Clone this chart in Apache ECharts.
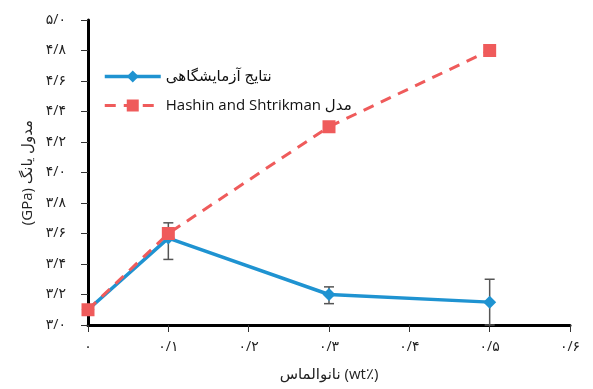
<!DOCTYPE html>
<html><head><meta charset="utf-8">
<script src="https://cdn.jsdelivr.net/npm/echarts@6/dist/echarts.min.js"></script>
<style>html,body{margin:0;padding:0;background:#fff}#c{width:593px;height:389px}</style>
</head><body><div id="c"></div>
<script>
var xValues = [0, 0.1, 0.3, 0.5];
var expValues = [3.10, 3.57, 3.20, 3.15];
var expErrLow = [3.10, 3.43, 3.14, 3.00];
var expErrHigh = [3.10, 3.67, 3.25, 3.30];
var modelValues = [3.10, 3.60, 4.30, 4.80];
var expName = 'نتایج آزمایشگاهی';
var modelName = 'Hashin and Shtrikman مدل';
var yAxisTitle = '(GPa) مدول یانگ';
var xAxisTitle = 'نانوالماس (wt٪)';
var faDigits = '۰۱۲۳۴۵۶۷۸۹';

function toFa(s){ return s.replace(/[0-9]/g, function(d){return faDigits[+d];}).replace('.', '/'); }

var FONT = "'Open Sans','DejaVu Sans',sans-serif";
var chart = echarts.init(document.getElementById('c'));
chart.setOption({
  animation: false,
  textStyle: {fontFamily: FONT},
  grid: {left: 88, right: 23, top: 20, bottom: 64},
  legend: {
    orient: 'vertical', left: 98, top: 64, itemGap: 14,
    itemWidth: 56, itemHeight: 15,
    textStyle: {fontSize: 15, color: '#111', fontFamily: FONT},
    data: [
      {name: expName, lineStyle: {width: 3.5}},
      {name: modelName, lineStyle: {width: 3}}
    ]
  },
  xAxis: {
    type: 'value', min: 0, max: 0.6, interval: 0.1,
    name: xAxisTitle, nameLocation: 'middle', nameGap: 42,
    nameTextStyle: {fontSize: 15, color: '#222', fontFamily: FONT},
    axisLine: {lineStyle: {color: '#000', width: 3}},
    axisTick: {show: true, length: 7, lineStyle: {color: '#333', width: 1}},
    axisLabel: {margin: 15, fontSize: 14, color: '#222', formatter: function(v){ return toFa(v === 0 ? '0' : v.toFixed(1)); }},
    splitLine: {show: false}
  },
  yAxis: {
    type: 'value', min: 3.0, max: 5.0, interval: 0.2,
    name: yAxisTitle, nameLocation: 'middle', nameGap: 53, nameRotate: 90,
    nameTextStyle: {fontSize: 15, color: '#222', fontFamily: FONT},
    axisLine: {show: true, lineStyle: {color: '#000', width: 3}},
    axisTick: {show: true, length: 7, lineStyle: {color: '#333', width: 1}},
    axisLabel: {margin: 22, fontSize: 14, color: '#222', formatter: function(v){ return toFa(v.toFixed(1)); }},
    splitLine: {show: false}
  },
  series: [
    {
      name: expName, type: 'line',
      data: xValues.map(function(x,i){return [x, expValues[i]];}),
      symbol: 'diamond', symbolSize: 13,
      itemStyle: {color: '#1f93d1'},
      lineStyle: {color: '#1f93d1', width: 3.5},
      z: 3
    },
    {
      name: 'err', type: 'custom',
      data: xValues.map(function(x,i){return [x, expErrLow[i], expErrHigh[i]];}),
      renderItem: function(params, api){
        var lo = api.coord([api.value(0), api.value(1)]);
        var hi = api.coord([api.value(0), api.value(2)]);
        if (Math.abs(hi[1]-lo[1]) < 1) return;
        var w = 5;
        var st = {stroke: '#555', lineWidth: 1.5};
        return {type: 'group', children: [
          {type: 'line', shape: {x1: lo[0], y1: lo[1], x2: hi[0], y2: hi[1]}, style: st},
          {type: 'line', shape: {x1: hi[0]-w, y1: hi[1], x2: hi[0]+w, y2: hi[1]}, style: st},
          {type: 'line', shape: {x1: lo[0]-w, y1: lo[1], x2: lo[0]+w, y2: lo[1]}, style: st}
        ]};
      },
      z: 2
    },
    {
      name: modelName, type: 'line',
      data: xValues.map(function(x,i){return [x, modelValues[i]];}),
      symbol: 'rect', symbolSize: 13,
      itemStyle: {color: '#ef5b5b'},
      lineStyle: {color: '#ef5b5b', width: 3, type: [11, 8]},
      z: 4
    }
  ]
});
</script></body></html>
